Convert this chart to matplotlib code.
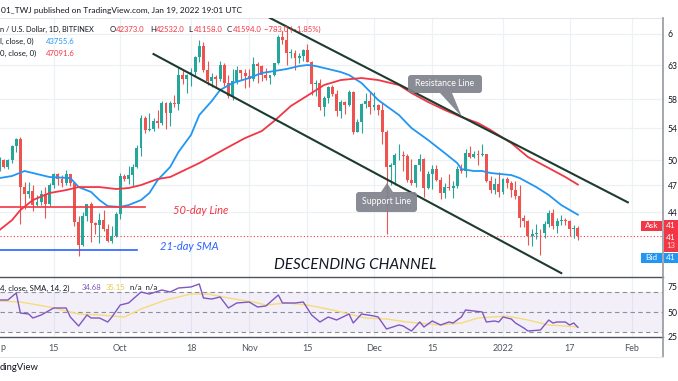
import numpy as np
import pandas as pd
import matplotlib
matplotlib.use('Agg')
import matplotlib.pyplot as plt
import matplotlib.dates as mdates
from matplotlib.patches import FancyBboxPatch, Polygon, Rectangle
from matplotlib.transforms import IdentityTransform
from matplotlib.ticker import NullLocator, NullFormatter
from matplotlib.lines import Line2D

plt.rcParams['font.family'] = ['Lato', 'DejaVu Sans']

# BTC/USD daily candles (Bitfinex)
dates = pd.date_range('2021-09-02', '2022-01-19', freq='D')
opens = [48800, 49950, 49200, 50000, 51750, 52660, 46860, 46050, 46400, 44850, 45150, 46060, 44960, 47090, 48310,
         47760, 47310, 48290, 47260, 43010, 40690, 43570, 44890, 42840, 42710, 43210, 42230, 41030, 41520,
         43790, 48140, 47710, 48200, 49110, 51510, 55360, 53800, 53960, 54960, 54690, 57480, 56040, 57400, 57320,
         61590, 60870, 61530, 62030, 64260, 65990, 62210, 60690, 61290, 60860, 63080, 60330, 58460, 60620, 62270, 61880,
         61320, 61000, 63230, 62940, 61450, 61010, 61530, 63310, 67550, 66970, 64950, 64950, 64160, 64470, 65470,
         63560, 60160, 60370, 56940, 58120, 59760, 58730, 56300, 57570, 57200, 58960, 53570, 54810, 57290, 57810,
         56950, 57230, 56500, 53600, 49200, 49400, 50580, 50640, 50500, 47670, 47240, 49350, 50100, 46740, 48380,
         48890, 47630, 46130, 46830, 46680, 46900, 48930, 48630, 50820, 50430, 50800, 50640, 50700, 47540, 46470, 47130,
         46200, 47720, 47310, 46450, 45830, 43430, 43080, 41550, 41730, 41860, 41830, 42740, 43950, 42590, 43100,
         43180, 43110, 42250, 42373]
highs = [50350, 50100, 50100, 51900, 52800, 52900, 47350, 47400, 47000, 45950, 46450, 46850, 47250, 48450, 48500,
         48150, 48800, 48370, 47350, 43600, 44000, 44950, 45100, 42950, 43900, 44300, 42800, 42600, 44100,
         48450, 48350, 49250, 49500, 51900, 55750, 55650, 56100, 55450, 56500, 57800, 57650, 57750, 58550, 62800,
         62300, 61700, 62650, 64400, 66950, 66600, 63700, 61750, 61450, 63700, 63300, 61450, 62450, 62900, 62300, 62400,
         62400, 64250, 63500, 63100, 62600, 61550, 63300, 67800, 68500, 69000, 65600, 65450, 64950, 65500, 66300,
         63600, 60800, 60950, 58400, 59850, 60000, 59300, 57850, 57800, 59350, 59200, 55300, 57400, 58850, 59200,
         59050, 57350, 57600, 53850, 49700, 50900, 51950, 51150, 50800, 50100, 49450, 50750, 50200, 48650, 49450,
         49400, 47950, 47300, 48300, 47500, 49300, 49550, 51350, 51800, 51150, 51250, 52050, 50700, 48100, 47900, 48550,
         47900, 47950, 47550, 47500, 47050, 43750, 43150, 42300, 42800, 42250, 43100, 44300, 44400, 43400, 43750,
         43450, 43150, 42650, 42532]
lows = [48650, 49000, 48900, 49600, 50950, 42800, 44400, 45600, 44150, 44750, 44800, 43400, 44700, 46700, 47050,
        46800, 47050, 46900, 42550, 39600, 40550, 43100, 40900, 41700, 40800, 42100, 40900, 40800, 41450,
        43300, 47450, 47150, 46950, 49050, 50450, 53400, 53650, 53700, 54100, 54450, 53900, 54300, 56850, 56500,
        60200, 58900, 59900, 61400, 63500, 62000, 60000, 59700, 59600, 60700, 59900, 58100, 57900, 60200, 60800, 59600,
        59700, 60700, 60400, 60700, 60800, 60150, 61400, 63200, 66400, 63000, 64150, 62300, 63400, 63650, 63500,
        58600, 58400, 56500, 55650, 57400, 58500, 55700, 55450, 55900, 57000, 53300, 53500, 53350, 56700, 55900,
        56500, 55800, 52000, 41700, 47100, 47100, 50050, 48650, 47350, 47000, 46850, 48700, 45700, 46550, 46600,
        47550, 45500, 45550, 46450, 45600, 46650, 48450, 47950, 50300, 50200, 49450, 50450, 47350, 46100, 46000, 45700,
        46000, 46700, 45700, 45500, 42500, 42450, 40600, 40550, 41200, 39650, 41300, 42450, 42300, 41850, 42650,
        42650, 41550, 41300, 41158]
closes = [49950, 49200, 50000, 51750, 52660, 46860, 46050, 46400, 44850, 45150, 46060, 44960, 47090, 48310, 47760,
          47310, 48290, 47260, 43010, 40690, 43570, 44890, 42840, 42710, 43210, 42230, 41030, 41520, 43790,
          48140, 47710, 48200, 49110, 51510, 55360, 53800, 53960, 54960, 54690, 57480, 56040, 57400, 57320, 61590,
          60870, 61530, 62030, 64260, 65990, 62210, 60690, 61290, 60860, 63080, 60330, 58460, 60620, 62270, 61880, 61320,
          61000, 63230, 62940, 61450, 61010, 61530, 63310, 67550, 66970, 64950, 64950, 64160, 64470, 65470, 63560,
          60160, 60370, 56940, 58120, 59760, 58730, 56300, 57570, 57200, 58960, 53570, 54810, 57290, 57810, 56950,
          57230, 56500, 53600, 49200, 49400, 50580, 50640, 50500, 47670, 47240, 49350, 50100, 46740, 48380, 48890,
          47630, 46130, 46830, 46680, 46900, 48930, 48630, 50820, 50430, 50800, 50640, 50700, 47540, 46470, 47130, 46200,
          47720, 47310, 46450, 45830, 43430, 43080, 41550, 41730, 41860, 41830, 42740, 43950, 42590, 43100, 43180,
          43110, 42250, 42373, 41594]

# moving averages
sma21_dates = ['2021-09-02', '2021-09-05', '2021-09-08', '2021-09-10', '2021-09-14', '2021-09-19', '2021-09-21',
               '2021-09-24', '2021-09-26', '2021-09-28', '2021-10-01', '2021-10-03', '2021-10-06', '2021-10-08',
               '2021-10-10', '2021-10-13', '2021-10-15', '2021-10-18', '2021-10-20', '2021-10-23', '2021-10-25',
               '2021-10-28', '2021-11-01', '2021-11-04', '2021-11-07', '2021-11-10', '2021-11-13', '2021-11-15',
               '2021-11-17', '2021-11-20', '2021-11-23', '2021-11-25', '2021-11-28', '2021-12-02', '2021-12-07',
               '2021-12-10', '2021-12-14', '2021-12-18', '2021-12-21', '2021-12-22', '2021-12-25', '2021-12-27',
               '2021-12-29', '2022-01-03', '2022-01-05', '2022-01-09', '2022-01-12', '2022-01-15', '2022-01-19']
sma21 = [47850, 48090, 48680, 48440, 47970, 47850, 46810, 46250, 45350, 44690, 44590, 44800, 45350, 46130,
         47620, 49160, 50990, 53150, 55800, 57740, 59310, 60330, 61070, 61820, 62120, 62430, 62880, 63040,
         62880, 62430, 61970, 61520, 60330, 57880, 55800, 54060, 52500, 50860, 49630, 48910, 48680, 48680,
         48440, 48200, 47850, 46810, 45910, 44800, 43755.6]
sma50_dates = ['2021-09-02', '2021-09-05', '2021-09-07', '2021-09-10', '2021-09-14', '2021-09-18', '2021-09-21',
               '2021-09-26', '2021-09-30', '2021-10-03', '2021-10-06', '2021-10-10', '2021-10-13', '2021-10-20',
               '2021-10-27', '2021-10-31', '2021-11-04', '2021-11-07', '2021-11-11', '2021-11-16', '2021-11-19',
               '2021-11-23', '2021-11-28', '2021-12-02', '2021-12-07', '2021-12-10', '2021-12-14', '2021-12-18',
               '2021-12-22', '2021-12-26', '2021-12-29', '2022-01-03', '2022-01-07', '2022-01-12', '2022-01-16',
               '2022-01-19']
sma50 = [42160, 43190, 44260, 45350, 46130, 46470, 46810, 46810, 46590, 46700, 47040, 47740, 47970, 49630,
         51610, 52750, 53660, 54990, 57040, 58880, 60040, 60770, 61070, 60770, 60040, 58880, 57600, 56490,
         55530, 54720, 53800, 52110, 50370, 49030, 47970, 47091.6]

# RSI (14) and its SMA
rsi_dates = ['2021-09-02', '2021-09-04', '2021-09-06', '2021-09-07', '2021-09-09', '2021-09-10', '2021-09-12',
             '2021-09-15', '2021-09-18', '2021-09-19', '2021-09-21', '2021-09-23', '2021-09-24', '2021-09-26',
             '2021-09-28', '2021-09-29', '2021-10-01', '2021-10-03', '2021-10-06', '2021-10-08', '2021-10-11',
             '2021-10-13', '2021-10-15', '2021-10-18', '2021-10-20', '2021-10-21', '2021-10-23', '2021-10-25',
             '2021-10-27', '2021-10-29', '2021-11-01', '2021-11-03', '2021-11-05', '2021-11-08', '2021-11-09',
             '2021-11-12', '2021-11-14', '2021-11-16', '2021-11-18', '2021-11-20', '2021-11-22', '2021-11-25',
             '2021-11-26', '2021-11-28', '2021-12-01', '2021-12-02', '2021-12-04', '2021-12-07', '2021-12-08',
             '2021-12-10', '2021-12-12', '2021-12-13', '2021-12-15', '2021-12-17', '2021-12-19', '2021-12-20',
             '2021-12-22', '2021-12-23', '2021-12-25', '2021-12-27', '2021-12-28', '2021-12-30', '2021-12-31',
             '2022-01-01', '2022-01-03', '2022-01-04', '2022-01-06', '2022-01-07', '2022-01-10', '2022-01-12',
             '2022-01-13', '2022-01-14', '2022-01-16', '2022-01-17', '2022-01-18', '2022-01-19']
rsi = [62, 62, 69, 49, 48, 44, 47, 54, 54, 45, 36, 47, 44, 44, 40, 45, 57, 59, 70, 68, 72, 70, 74, 75, 78, 64,
       63, 65, 54, 59, 60, 55, 56, 67, 59, 59, 60, 47, 40, 45, 42, 48, 39, 48, 46, 45, 33, 37, 36, 31, 40, 35,
       41, 37, 40, 39, 45, 52, 51, 50, 40, 41, 40, 45, 43, 39, 34, 31, 32, 42, 39, 40, 40, 37, 39, 34.68]
rsi_ma_dates = ['2021-09-02', '2021-09-07', '2021-09-14', '2021-09-21', '2021-09-26', '2021-10-02', '2021-10-06',
                '2021-10-12', '2021-10-18', '2021-10-22', '2021-10-27', '2021-11-02', '2021-11-05', '2021-11-10',
                '2021-11-15', '2021-11-21', '2021-11-23', '2021-11-29', '2021-12-04', '2021-12-09', '2021-12-17',
                '2021-12-22', '2021-12-26', '2022-01-02', '2022-01-07', '2022-01-12', '2022-01-19']
rsi_ma = [61, 60, 55, 48, 47, 45, 53, 62, 68, 68, 64, 60, 57, 59, 57, 52, 50, 44, 43, 40, 37, 39, 44, 46, 42,
          37, 35.15]

# channel and level lines (date, price)
upper_line = (['2021-11-06', '2022-01-31'], [70700, 45100])
lower_line = (['2021-10-09', '2022-01-15'], [64750, 37950])
red_level = (['2021-08-30', '2021-10-07'], [44590, 44590])
blue_level = (['2021-08-30', '2021-10-05'], [40150, 40150])

# the price scale is cut by the right edge of the screenshot: only the first digits show
price_ticks = [44000, 47000, 50000, 54000, 58000, 63000, 68000]
price_labels = ['44', '47', '50', '54', '58', '63', '6']
time_ticks = ['2021-09-15', '2021-10-01', '2021-10-18', '2021-11-01', '2021-11-15', '2021-12-01',
              '2021-12-15', '2022-01-01', '2022-01-17', '2022-02-01']
time_labels = ['15', 'Oct', '18', 'Nov', '15', 'Dec', '15', '2022', '17', 'Feb']

UP = '#26a69a'
DOWN = '#ef5350'
W, H = 678, 381


def fx(x):
    return x / W


def fy(y):
    return 1 - y / H


def d(s):
    return mdates.date2num(pd.to_datetime(s))


fig = plt.figure(figsize=(W / 100, H / 100), dpi=100)
fig.patch.set_facecolor('white')

ax = fig.add_axes([0, fy(277), 663 / W, (277 - 18) / H])
ax2 = fig.add_axes([0, fy(337), 663 / W, (337 - 277) / H], sharex=ax)

jan1 = d('2022-01-01')
ax.set_xlim(jan1 - 120.9, jan1 + 38.46)
ax.set_yscale('log')
ax.set_ylim(37590, 70700)

x = mdates.date2num(dates)
o = np.array(opens, float)
h = np.array(highs, float)
l = np.array(lows, float)
c = np.array(closes, float)
cols = np.where(c >= o, UP, DOWN)
ax.vlines(x, l, h, colors=cols, lw=0.8, zorder=3)
bot = np.minimum(o, c)
top = np.maximum(o, c)
top = np.where(top / bot < 1.001, bot * 1.001, top)
ax.bar(x, top - bot, bottom=bot, width=0.7, color=cols, lw=0, zorder=4)

ax.plot([d(s) for s in sma21_dates], sma21, color='#2196f3', lw=1.3, zorder=5)
ax.plot([d(s) for s in sma50_dates], sma50, color='#f23645', lw=1.3, zorder=5)

for line in (upper_line, lower_line):
    ax.plot([d(s) for s in line[0]], line[1], color='#1d3b2e', lw=1.5, zorder=6)
ax.plot([d(s) for s in red_level[0]], red_level[1], color='#f23645', lw=1.2, zorder=6)
ax.plot([d(s) for s in blue_level[0]], blue_level[1], color='#2962ff', lw=1.2, zorder=6)
ax.axhline(closes[-1], color='#f23645', lw=0.8, ls=(0, (1, 2)), zorder=2)

# price axis
ax.yaxis.tick_right()
ax.set_yticks(price_ticks)
ax.set_yticklabels(price_labels)
ax.yaxis.set_minor_locator(NullLocator())
ax.yaxis.set_minor_formatter(NullFormatter())
ax.tick_params(axis='y', length=0, pad=3.5, labelsize=6.2, labelcolor='#131722')
ax.set_xticks([d(s) for s in time_ticks])
ax.tick_params(axis='x', length=0, labelbottom=False)
ax.grid(True, color='#edf0f5', lw=0.9)
ax.set_axisbelow(True)
for sp in ax.spines.values():
    sp.set_visible(False)
ax.spines['top'].set_visible(True)
ax.spines['top'].set_color('#e4e7ee')

# RSI pane
ax2.set_ylim(25, 85)
ax2.axhspan(30, 70, color='#7e57c2', alpha=0.09, lw=0)
for lev in (30, 50, 70):
    ax2.axhline(lev, color='#8c8f99', lw=0.8, ls=(0, (4, 3)))
ax2.plot([d(s) for s in rsi_dates], rsi, color='#7e57c2', lw=1.0, zorder=4)
ax2.plot([d(s) for s in rsi_ma_dates], rsi_ma, color='#f5dc7a', lw=1.0, zorder=3)
ax2.yaxis.tick_right()
ax2.set_yticks([25, 50, 75])
ax2.set_yticklabels(['25', '50', '75'])
ax2.tick_params(axis='y', length=0, pad=3.5, labelsize=6.2, labelcolor='#131722')
ax2.set_xticks([d(s) for s in time_ticks])
ax2.set_xticklabels(time_labels)
ax2.tick_params(axis='x', length=0, pad=5, labelsize=6.5, labelcolor='#50535e')
ax2.grid(True, axis='x', color='#edf0f5', lw=0.9)
ax2.set_axisbelow(True)
for sp in ax2.spines.values():
    sp.set_visible(False)
for k in ('top', 'bottom'):
    ax2.spines[k].set_visible(True)
    ax2.spines[k].set_color('#50535e')
    ax2.spines[k].set_linewidth(1.0)
fig.text(fx(0), fy(348), 'p', fontsize=6.5, color='#50535e', va='center')

# frame lines
fig.add_artist(Line2D([fx(663), fx(663)], [fy(18), fy(357)], color='#9598a1', lw=1.2))
fig.add_artist(Line2D([0, fx(663)], [fy(357), fy(357)], color='#e4e7ee', lw=0.8))

# header texts
fs = 5.6
fig.text(fx(1), fy(10), '01_TWJ published on TradingView.com, Jan 19, 2022 19:01 UTC', fontsize=6.0,
         color='#131722', va='center')
fig.text(fx(0), fy(29), 'n / U.S. Dollar, 1D, BITFINEX', fontsize=5.3, color='#131722', va='center')
for lx, lab, val in [(110, 'O', '42373.0'), (150, 'H', '42532.0'), (188, 'L', '41158.0'), (227, 'C', '41594.0')]:
    fig.text(fx(lx), fy(29), lab, fontsize=fs, color='#131722', va='center')
    fig.text(fx(lx + 5.5), fy(29), val, fontsize=fs, color='#f23645', va='center')
fig.text(fx(264), fy(29), '\u2212783.0 (\u22121.85%)', fontsize=fs, color='#f23645', va='center')
fig.text(fx(0), fy(41), 'l, close, 0)', fontsize=fs, color='#131722', va='center')
fig.text(fx(46), fy(41), '43755.6', fontsize=fs, color='#2196f3', va='center')
fig.text(fx(0), fy(53), '0, close, 0)', fontsize=fs, color='#131722', va='center')
fig.text(fx(46), fy(53), '47091.6', fontsize=fs, color='#f23645', va='center')
fig.text(fx(0), fy(288), '4, close, SMA, 14, 2)', fontsize=fs, color='#131722', va='center')
fig.text(fx(82), fy(288), '34.68', fontsize=fs, color='#7e57c2', va='center')
fig.text(fx(106), fy(288), '35.15', fontsize=fs, color='#e8c84a', va='center')
fig.text(fx(130), fy(288), 'n/a  n/a', fontsize=fs, color='#131722', va='center')
fig.text(fx(0), fy(368), 'dingView', fontsize=6.8, color='#131722', va='center')

# annotations on the chart
fig.text(fx(201), fy(210), '50-day Line', fontsize=8, style='italic', color='#f23645', ha='center', va='center')
fig.text(fx(189), fy(246), '21-day SMA', fontsize=8, style='italic', color='#2962ff', ha='center', va='center')
fig.text(fx(355), fy(265), 'DESCENDING CHANNEL', fontsize=11, style='italic', color='#131722',
         ha='center', va='center')


def callout(x0, y0, x1, y1, tail, text):
    box = FancyBboxPatch((x0, H - y1), x1 - x0, y1 - y0, boxstyle='round,pad=0,rounding_size=3',
                         transform=IdentityTransform(), fc='#7f828c', ec='none', alpha=0.92, zorder=10)
    fig.add_artist(box)
    tri = Polygon([(px, H - py) for px, py in tail], closed=True, transform=IdentityTransform(),
                  fc='#7f828c', ec='none', alpha=0.92, zorder=10)
    fig.add_artist(tri)
    fig.text(fx((x0 + x1) / 2), fy((y0 + y1) / 2), text, fontsize=6.3, color='white', ha='center',
             va='center', zorder=11)


callout(408, 75, 482, 93, [(440, 93), (452, 93), (462, 117)], 'Resistance Line')
callout(356, 192, 417, 212, [(381, 192), (393, 192), (387, 183)], 'Support Line')


# ask / last / bid tags on the price scale
def tag(x0, y0, x1, y1, color):
    fig.add_artist(Rectangle((x0, H - y1), x1 - x0, y1 - y0, transform=IdentityTransform(), fc=color,
                             ec='none', zorder=12))


tag(641, 221, 662, 231, '#f23645')
tag(664, 220, 679, 252, '#f23645')
tag(641, 253, 662, 263, '#2196f3')
tag(664, 253, 679, 263, '#2196f3')
fig.text(fx(651.5), fy(226), 'Ask', fontsize=6, color='white', ha='center', va='center', zorder=13)
fig.text(fx(651.5), fy(258), 'Bid', fontsize=6, color='white', ha='center', va='center', zorder=13)
fig.text(fx(666), fy(226), '41', fontsize=6.0, color='white', va='center', zorder=13)
fig.text(fx(666), fy(237), '41', fontsize=6.0, color='white', va='center', zorder=13)
fig.text(fx(666), fy(245.5), '13', fontsize=5.6, color='#ffd6d6', va='center', zorder=13)
fig.text(fx(666), fy(258), '41', fontsize=6.0, color='white', va='center', zorder=13)

fig.savefig('out.png', dpi=100)
